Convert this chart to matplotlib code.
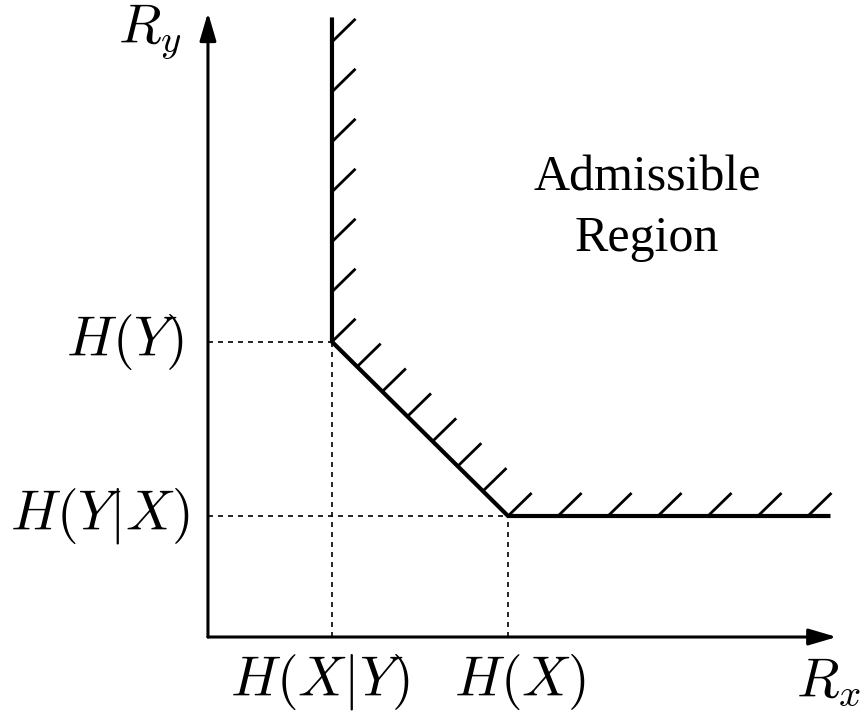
import matplotlib
matplotlib.use("Agg")
import matplotlib.pyplot as plt
import numpy as np

plt.rcParams["mathtext.fontset"] = "cm"

# corner points of the rate region
h_x_given_y = 1.0
h_x = 2.42
h_y_given_x = 1.0
h_y = 2.44
r_max_x = 5.02
r_max_y = 5.12

corner_labels_x = [r"$H(X|Y)$", r"$H(X)$"]
corner_labels_y = [r"$H(Y)$", r"$H(Y|X)$"]

fig = plt.figure(figsize=(8.6, 7.17), dpi=100)
ax = fig.add_axes([0, 0, 1, 1])
ax.set_xlim(-1.677, 5.258)
ax.set_ylim(-0.661, 5.264)
ax.axis("off")

# axes with arrows
arrow = dict(arrowstyle="-|>,head_length=1.7,head_width=0.5", lw=2.2, color="black",
             shrinkA=0, shrinkB=0)
ax.annotate("", xy=(5.07, 0), xytext=(0, 0), arrowprops=arrow)
ax.annotate("", xy=(0, 5.16), xytext=(0, 0), arrowprops=arrow)

# dashed guides
dash = dict(color="black", lw=1.2, ls=(0, (3, 3)))
ax.plot([0, h_x_given_y], [h_y, h_y], **dash)
ax.plot([0, h_x], [h_y_given_x, h_y_given_x], **dash)
ax.plot([h_x_given_y, h_x_given_y], [0, h_y], **dash)
ax.plot([h_x, h_x], [0, h_y_given_x], **dash)

# boundary
bx = [h_x_given_y, h_x_given_y, h_x, r_max_x]
by = [r_max_y, h_y, h_y_given_x, h_y_given_x]
ax.plot(bx, by, color="black", lw=3.0, solid_joinstyle="miter", solid_capstyle="butt")

# hatch ticks on the admissible side
tdx, tdy = 0.19, 0.19
ticks = []
for k in range(7):
    ticks.append((h_x_given_y, h_y + k * 0.413))
for k in range(1, 8):
    t = k / 7
    ticks.append((h_x_given_y + t * (h_x - h_x_given_y), h_y + t * (h_y_given_x - h_y)))
for k in range(1, 7):
    ticks.append((h_x + k * 0.403, h_y_given_x))
for px, py in ticks:
    ax.plot([px, px + tdx], [py, py + tdy], color="black", lw=2.0, solid_capstyle="butt")

fs = 40
ax.text(-0.47, 5.0, r"$R_y$", fontsize=fs, ha="center", va="center")
ax.text(5.0, -0.37, r"$R_x$", fontsize=fs, ha="center", va="center")
ax.text(h_x_given_y - 0.1, -0.37, corner_labels_x[0], fontsize=fs, ha="center", va="center")
ax.text(h_x + 0.1, -0.37, corner_labels_x[1], fontsize=fs, ha="center", va="center")
ax.text(-0.19, h_y, corner_labels_y[0], fontsize=fs, ha="right", va="center")
ax.text(-0.15, h_y_given_x, corner_labels_y[1], fontsize=fs, ha="right", va="center")

ax.text(3.54, 3.54, "Admissible\nRegion", fontsize=36, family="Liberation Serif",
        ha="center", va="center", linespacing=1.4)

fig.savefig("out.png", dpi=100)
